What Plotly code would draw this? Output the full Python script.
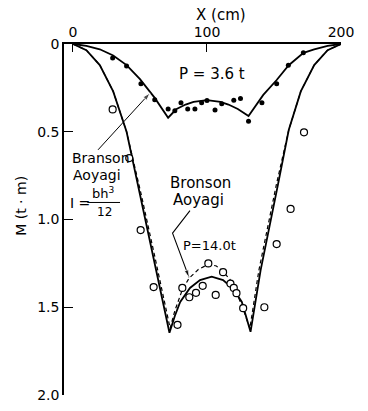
import plotly.graph_objects as go

# ---- data ----
# P = 3.6 t : theory curve (solid) and measured points (filled)
p36_x = [0, 10, 20, 30, 40, 50, 61, 71, 77, 84, 90, 100, 110, 116, 123, 131, 142, 152, 161, 172, 180, 190, 200]
p36_m = [0, 0.01, 0.03, 0.065, 0.12, 0.2, 0.307, 0.42, 0.372, 0.345, 0.33, 0.32, 0.33, 0.345, 0.37, 0.41, 0.29, 0.205, 0.121, 0.05, 0.03, 0.01, 0]
p36_pts_x = [29.6, 40, 50.7, 61, 71, 76, 80.6, 85.6, 91, 96, 100, 106, 111, 120, 125, 131, 141, 152, 160.7, 171.9]
p36_pts_m = [0.08, 0.125, 0.227, 0.317, 0.37, 0.38, 0.335, 0.37, 0.37, 0.335, 0.322, 0.376, 0.34, 0.32, 0.31, 0.44, 0.335, 0.227, 0.121, 0.05]

# P = 14.0 t : Branson (solid) and Aoyagi (dashed) curves, measured points (open)
p14_sol_x = [0, 10, 20, 30, 40, 50, 60, 72, 76, 80, 87.3, 94.8, 103.5, 112, 119.7, 126, 132.5, 140, 153, 161, 170, 180, 190, 200]
p14_sol_m = [0, 0.035, 0.12, 0.27, 0.5, 0.86, 1.22, 1.645, 1.55, 1.47, 1.39, 1.345, 1.326, 1.345, 1.397, 1.47, 1.64, 1.29, 0.8, 0.49, 0.27, 0.12, 0.035, 0]
p14_dash_x = [0, 10, 20, 30, 40, 51, 61.3, 72.5, 76, 81.6, 86.6, 93.5, 101, 107, 111, 117, 122, 127, 132, 138.7, 151.8, 161, 170, 180, 190, 200]
p14_dash_m = [0, 0.035, 0.12, 0.27, 0.5, 0.86, 1.22, 1.62, 1.52, 1.4, 1.335, 1.285, 1.255, 1.265, 1.29, 1.34, 1.415, 1.51, 1.62, 1.29, 0.8, 0.49, 0.27, 0.12, 0.035, 0]
p14_pts_x = [29.6, 42, 50.5, 60.2, 78, 81.6, 86.8, 91.8, 96.8, 101, 106.5, 112, 117.5, 120, 122, 127, 142.8, 152, 162.4, 172.4]
p14_pts_m = [0.373, 0.65, 1.06, 1.385, 1.6, 1.39, 1.443, 1.418, 1.378, 1.25, 1.43, 1.3, 1.365, 1.39, 1.42, 1.505, 1.5, 1.14, 0.94, 0.503]

x_ticks = [0, 100, 200]
x_tick_text = ["0", "100", "200"]
y_ticks = [0, 0.5, 1.0, 1.5, 2.0]
y_tick_text = ["0", "0.5", "1.0", "1.5", "2.0"]

FONT = "DejaVu Sans"
fig = go.Figure()

fig.add_trace(go.Scatter(x=p14_dash_x, y=p14_dash_m, mode="lines",
                         line=dict(color="black", width=1.2, dash="4px,3px"), hoverinfo="skip"))
fig.add_trace(go.Scatter(x=p14_sol_x, y=p14_sol_m, mode="lines",
                         line=dict(color="black", width=1.8), hoverinfo="skip"))
fig.add_trace(go.Scatter(x=p36_x, y=p36_m, mode="lines",
                         line=dict(color="black", width=1.8), hoverinfo="skip"))
fig.add_trace(go.Scatter(x=p36_pts_x, y=p36_pts_m, mode="markers",
                         marker=dict(color="black", size=5), hoverinfo="skip"))
fig.add_trace(go.Scatter(x=p14_pts_x, y=p14_pts_m, mode="markers",
                         marker=dict(color="white", size=7, line=dict(color="black", width=1.2)),
                         hoverinfo="skip"))

# leader lines with arrowheads
fig.add_trace(go.Scatter(x=[18.7, 57.5], y=[0.603, 0.279], mode="lines+markers",
                         line=dict(color="black", width=1),
                         marker=dict(symbol="arrow", angleref="previous", size=[0, 8], color="black"),
                         hoverinfo="skip"))
fig.add_trace(go.Scatter(x=[87.3, 74.3, 86.6], y=[0.949, 1.078, 1.33], mode="lines+markers",
                         line=dict(color="black", width=1.1),
                         marker=dict(symbol="arrow", angleref="previous", size=[0, 0, 8], color="black"),
                         hoverinfo="skip"))

txt = dict(color="black", family=FONT)
ann = [
    dict(x=104, y=0.173, text="P = 3.6 t", showarrow=False, font=dict(size=15, **txt)),
    dict(x=101.5, y=1.15, text="P=14.0t", showarrow=False, font=dict(size=13, **txt)),
    dict(x=95, y=0.79, text="Bronson", showarrow=False, font=dict(size=15, **txt)),
    dict(x=94, y=0.89, text="Aoyagi", showarrow=False, font=dict(size=15, **txt)),
    dict(x=-2.4, y=0.65, text="Branson", showarrow=False, xanchor="left", font=dict(size=14, **txt)),
    dict(x=-1.2, y=0.745, text="Aoyagi", showarrow=False, xanchor="left", font=dict(size=14, **txt)),
    dict(x=-3.5, y=0.905, text="I =", showarrow=False, xanchor="left", font=dict(size=14, **txt)),
    dict(x=23, y=0.85, text="bh<sup>3</sup>", showarrow=False, font=dict(size=13, **txt)),
    dict(x=23.8, y=0.958, text="12", showarrow=False, font=dict(size=12, **txt)),
    dict(xref="paper", yref="paper", x=0.565, y=1.083, yanchor="middle", xanchor="center",
         text="X (cm)", showarrow=False, font=dict(size=15, **txt)),
    dict(xref="paper", yref="paper", x=-0.19, y=0.54, text="M (t · m)", textangle=-90,
         showarrow=False, font=dict(size=14, **txt)),
]

fig.update_layout(
    width=368, height=411,
    margin=dict(l=64, r=27, t=44, b=8),
    paper_bgcolor="white", plot_bgcolor="white",
    showlegend=False,
    annotations=ann,
    shapes=[dict(type="line", xref="x", yref="y", x0=10.7, x1=35.1, y0=0.903, y1=0.903,
                 line=dict(color="black", width=1))],
    xaxis=dict(range=[-6.7, 200], side="top", tickvals=x_ticks, ticktext=x_tick_text,
               ticks="inside", ticklen=8, tickcolor="black", showline=True, linecolor="black",
               linewidth=1.5, showgrid=False, zeroline=False,
               tickfont=dict(size=14, color="black", family=FONT)),
    yaxis=dict(range=[2.0, 0], tickvals=y_ticks, ticktext=y_tick_text,
               ticks="inside", ticklen=9, tickcolor="black", showline=True, linecolor="black",
               linewidth=1.5, showgrid=False, zeroline=False,
               tickfont=dict(size=14, color="black", family=FONT)),
)

fig.write_html("out.html")
